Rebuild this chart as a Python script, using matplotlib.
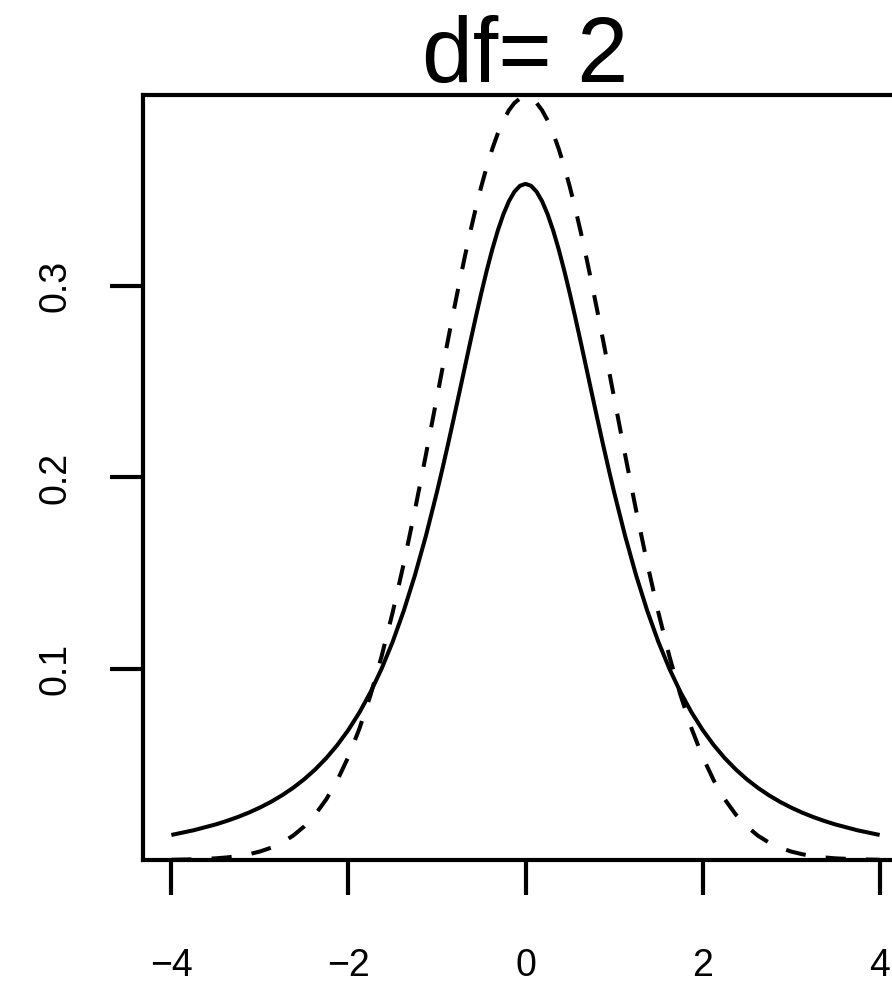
import matplotlib
matplotlib.use("Agg")
import matplotlib.pyplot as plt

plt.rcParams['font.family'] = ['Liberation Sans', 'DejaVu Sans']

title = "df= 2"
x_vals = [-4.0, -3.75, -3.5, -3.375, -3.25, -3.125, -3.0, -2.875, -2.75, -2.625, -2.5, -2.375,
          -2.25, -2.125, -2.0, -1.875, -1.75, -1.625, -1.5, -1.375, -1.25, -1.125, -1.0,
          -0.9375, -0.875, -0.8125, -0.75, -0.6875, -0.625, -0.5625, -0.5, -0.4375, -0.375,
          -0.3125, -0.25, -0.1875, -0.125, -0.0625, 0.0, 0.0625, 0.125, 0.1875, 0.25, 0.3125,
          0.375, 0.4375, 0.5, 0.5625, 0.625, 0.6875, 0.75, 0.8125, 0.875, 0.9375, 1.0, 1.125,
          1.25, 1.375, 1.5, 1.625, 1.75, 1.875, 2.0, 2.125, 2.25, 2.375, 2.5, 2.625, 2.75,
          2.875, 3.0, 3.125, 3.25, 3.375, 3.5, 3.75, 4.0]
t_density = [0.01309, 0.01553, 0.01859, 0.02041, 0.02246, 0.02478, 0.02741, 0.03040, 0.03382,
             0.03772, 0.04220, 0.04735, 0.05328, 0.06013, 0.06804, 0.07720, 0.08779, 0.10003,
             0.11413, 0.13031, 0.14872, 0.16945, 0.19245, 0.20472, 0.21742, 0.23048, 0.24378,
             0.25719, 0.27054, 0.28364, 0.29630, 0.30826, 0.31929, 0.32915, 0.33760, 0.34443,
             0.34945, 0.35252, 0.35355, 0.35252, 0.34945, 0.34443, 0.33760, 0.32915, 0.31929,
             0.30826, 0.29630, 0.28364, 0.27054, 0.25719, 0.24378, 0.23048, 0.21742, 0.20472,
             0.19245, 0.16945, 0.14872, 0.13031, 0.11413, 0.10003, 0.08779, 0.07720, 0.06804,
             0.06013, 0.05328, 0.04735, 0.04220, 0.03772, 0.03382, 0.03040, 0.02741, 0.02478,
             0.02246, 0.02041, 0.01859, 0.01553, 0.01309]
normal_density = [0.00013, 0.00035, 0.00087, 0.00134, 0.00203, 0.00302, 0.00443, 0.00640, 0.00909,
                  0.01272, 0.01753, 0.02377, 0.03174, 0.04172, 0.05399, 0.06879, 0.08628, 0.10654,
                  0.12952, 0.15501, 0.18265, 0.21187, 0.24197, 0.25707, 0.27205, 0.28678, 0.30114,
                  0.31497, 0.32816, 0.34057, 0.35207, 0.36253, 0.37185, 0.37993, 0.38667, 0.39199,
                  0.39584, 0.39816, 0.39894, 0.39816, 0.39584, 0.39199, 0.38667, 0.37993, 0.37185,
                  0.36253, 0.35207, 0.34057, 0.32816, 0.31497, 0.30114, 0.28678, 0.27205, 0.25707,
                  0.24197, 0.21187, 0.18265, 0.15501, 0.12952, 0.10654, 0.08628, 0.06879, 0.05399,
                  0.04172, 0.03174, 0.02377, 0.01753, 0.01272, 0.00909, 0.00640, 0.00443, 0.00302,
                  0.00203, 0.00134, 0.00087, 0.00035, 0.00013]
x_ticks = [-4, -2, 0, 2, 4]
x_ticklabels = ["\u22124", "\u22122", "0", "2", "4"]
y_ticks = [0.1, 0.2, 0.3]
y_ticklabels = ["0.1", "0.2", "0.3"]

W, H = 892, 988
fig = plt.figure(figsize=(W / 100, H / 100), dpi=100)
ax = fig.add_axes([143 / W, (H - 860) / H, 765 / W, 765 / H])

ax.plot(x_vals, t_density, color='black', lw=2.9, solid_capstyle='butt',
        solid_joinstyle='round')
ax.plot(x_vals, normal_density, color='black', lw=2.9, linestyle=(0, (5, 5)),
        dash_capstyle='butt', dash_joinstyle='round')

ax.set_xlim(-4.32, 4.32)
ax.set_ylim(0, 0.4)
for s in ['left', 'top', 'bottom', 'right']:
    ax.spines[s].set_linewidth(3)
    ax.spines[s].set_color('black')

ax.set_xticks(x_ticks)
ax.set_xticklabels(x_ticklabels)
ax.set_yticks(y_ticks)
ax.set_yticklabels(y_ticklabels, rotation=90, va='center')
ax.tick_params(axis='x', direction='out', length=25, width=3, pad=38, labelsize=27)
ax.tick_params(axis='y', direction='out', length=24, width=3, pad=26, labelsize=27)

fig.text(525.5 / W, 1 - 82 / H, title, ha='center', va='baseline', fontsize=66)

fig.savefig("out.png", dpi=100)
